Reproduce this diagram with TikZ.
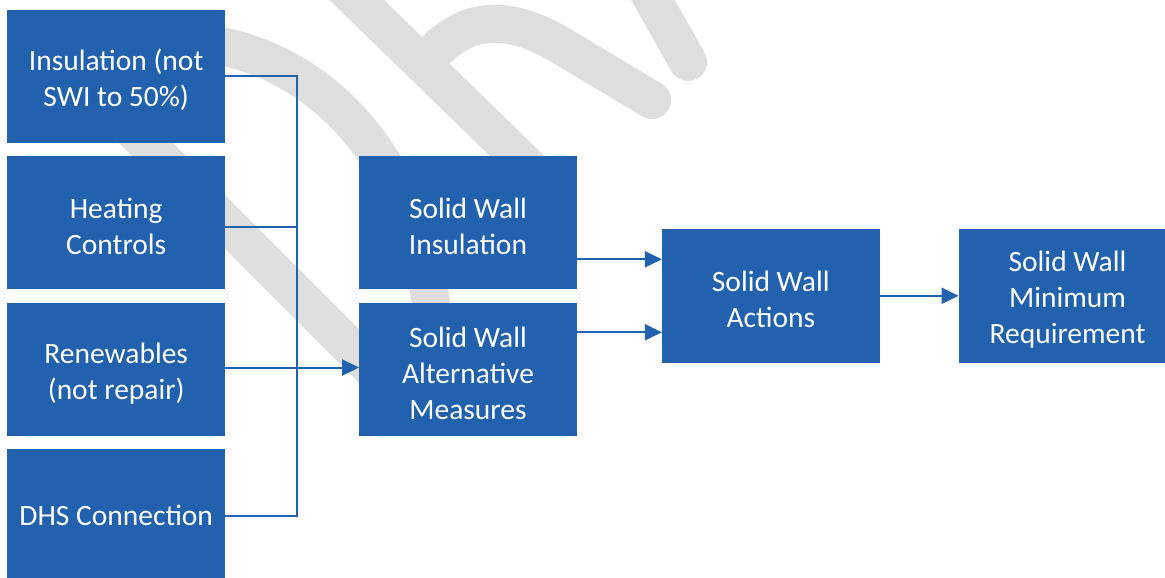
\documentclass[tikz,border=0pt]{standalone}
\usepackage{fontspec}
\setmainfont{Carlito}
\usetikzlibrary{arrows.meta}
\definecolor{boxblue}{RGB}{33,97,174}
\definecolor{wm}{RGB}{222,222,222}
\newcommand\firstln{\rule{0pt}{28pt}}
\begin{document}
\begin{tikzpicture}[x=1pt,y=-1pt,
  box/.style={fill=boxblue, text=white, minimum width=217.5pt, minimum height=133.5pt,
    inner sep=0pt, align=center, font=\fontsize{29.5}{36}\selectfont},
  wmark/.style={draw=wm, line width=38pt, line cap=round},
  conn/.style={draw=boxblue, line width=2pt},
  arr/.style={conn, -{Triangle[length=17pt,width=16pt]}}
]
\useasboundingbox (0,0) rectangle (1165,578);
% watermark
\draw[wmark] (40,37) -- (415,412);
\draw[wmark] (190,42) .. controls (320,50) and (440,170) .. (435,380);
\draw[wmark] (330,-26) -- (545,183);
\draw[wmark] (425,62) .. controls (460,20) and (500,10) .. (560,45) -- (652,100);
\draw[wmark] (636,-30) -- (688,62);
% boxes
\node[box] (b1) at (116.2,76.4) {\firstln Insulation (not\\SWI to 50\%)};
\node[box] (b2) at (116.2,222.6) {\firstln Heating\\Controls};
\node[box] (b3) at (116.2,369.5) {\firstln Renewables\\(not repair)};
\node[box] (b4) at (116.2,515.5) {DHS Connection};
\node[box] (swi) at (468,222.6) {\firstln Solid Wall\\Insulation};
\node[box] (alt) at (468,369.5) {\firstln Solid Wall\\Alternative\\Measures};
\node[box] (act) at (770.8,295.8) {\firstln Solid Wall\\Actions};
\node[box] (min) at (1067.5,295.8) {\firstln Solid Wall\\Minimum\\Requirement};
% connectors
\coordinate (t1) at (297,76.4);
\coordinate (t4) at (297,515.5);
\coordinate (h2) at ([yshift=-4pt]b2.east);
\coordinate (h3) at ([yshift=2pt]b3.east);
\coordinate (in1) at ([yshift=36.5pt]act.west);
\coordinate (in2) at ([yshift=-36.5pt]act.west);
\draw[conn] (b1.east) -- (t1) -- (t4) -- (b4.east);
\draw[conn] (h2) -- (h2 -| t1);
\draw[arr] (h3) -- (h3 -| alt.west);
\draw[arr] (in1 -| swi.east) -- (in1);
\draw[arr] (in2 -| alt.east) -- (in2);
\draw[arr] (act.east) -- (min.west);
\end{tikzpicture}
\end{document}
